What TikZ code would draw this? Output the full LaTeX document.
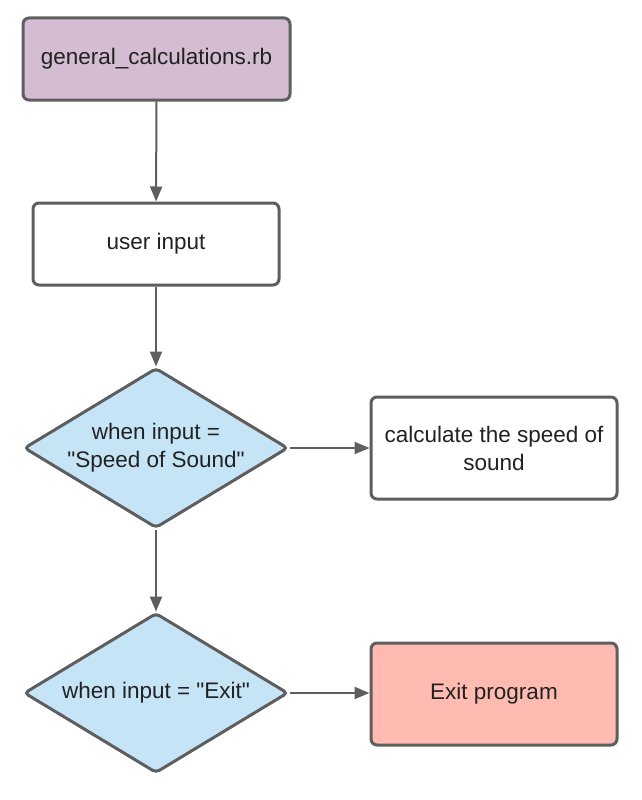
\documentclass[tikz,border=0pt]{standalone}
\usepackage{fontspec}
\setmainfont{Liberation Sans}[Ligatures=TeXOff]
\usetikzlibrary{shapes.geometric,arrows.meta}
\definecolor{edgec}{HTML}{5E5E5E}
\definecolor{purplef}{HTML}{D4BCD3}
\definecolor{bluef}{HTML}{C5E4F6}
\definecolor{redf}{HTML}{FFBBB1}
\definecolor{textc}{HTML}{222222}
\tikzset{
  base/.style={draw=edgec, line width=3pt, text=textc, font=\fontsize{22.5}{28}\selectfont, align=center, inner sep=0pt},
  box/.style={base, rectangle, rounded corners=6pt},
  decision/.style={base, diamond, aspect=1.65, minimum width=264pt, minimum height=160pt, fill=bluef, rounded corners=4pt},
  conn/.style={draw=edgec, line width=2pt, -{Triangle[length=15pt,width=12pt]}}
}
\begin{document}
\begin{tikzpicture}[x=1pt,y=-1pt]
\useasboundingbox (0,0) rectangle (642,800);
\node[box, fill=purplef, minimum width=267pt, minimum height=82pt] (start) at (156.5,59) {general\_calculations.rb};
\node[box, fill=white, minimum width=246pt, minimum height=82pt] (input) at (156,244) {user input};
\node[decision] (d1) at (156,448) {when input =\\"Speed of Sound"};
\node[box, fill=white, minimum width=246pt, minimum height=102pt] (calc) at (494,448) {calculate the speed of\\sound};
\node[decision] (d2) at (156,693) {when input = "Exit"};
\node[box, fill=redf, minimum width=246pt, minimum height=102pt] (exit) at (494,694) {Exit program};
\draw[conn] (start) -- (input);
\draw[conn] (input) -- (d1);
\draw[conn] (d1) -- (calc);
\draw[conn] (d1) -- (d2);
\draw[conn] (d2) -- (exit.west |- d2);
\end{tikzpicture}
\end{document}
